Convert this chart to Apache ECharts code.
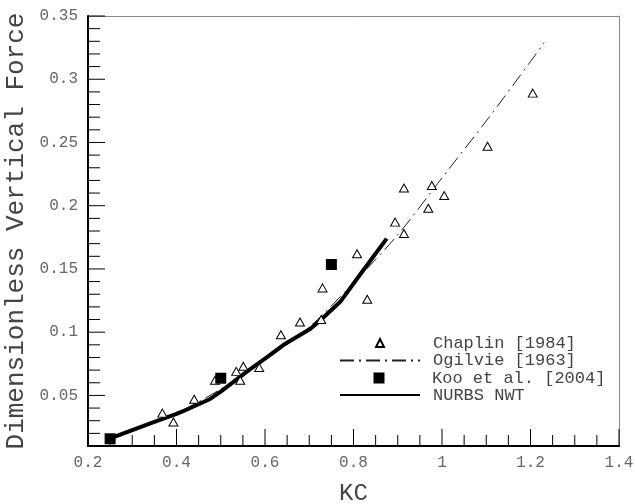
<!DOCTYPE html>
<html>
<head>
<meta charset="utf-8">
<script src="https://cdn.jsdelivr.net/npm/echarts@6/dist/echarts.min.js"></script>
<style>
  html, body { margin: 0; padding: 0; background: #fff; }
  #chart { width: 635px; height: 504px; }
</style>
</head>
<body>
<div id="chart"></div>
<script>
// Dimensionless vertical force versus Keulegan-Carpenter number (KC)

// Chaplin [1984] measurements
const chaplinKC = [0.368, 0.393, 0.44, 0.487, 0.535, 0.551, 0.544, 0.587, 0.636, 0.679,
                   0.727, 0.73, 0.808, 0.831, 0.894, 0.914, 0.914, 0.969, 0.977, 1.005,
                   1.103, 1.205];
const chaplinF = [0.036, 0.029, 0.047, 0.062, 0.069, 0.073, 0.062, 0.072, 0.098, 0.108,
                  0.110, 0.135, 0.162, 0.126, 0.187, 0.178, 0.214, 0.198, 0.216, 0.208,
                  0.247, 0.289];

// Ogilvie [1963] theory curve
const ogilvieKC = [0.25, 0.4, 0.5, 0.6, 0.7, 0.8, 0.9, 1.0, 1.1, 1.2, 1.231];
const ogilvieF = [0.015, 0.036, 0.055, 0.078, 0.104, 0.139, 0.177, 0.222, 0.267, 0.314, 0.329];

// Koo et al. [2004]
const kooKC = [0.25, 0.5, 0.75];
const kooF = [0.0157, 0.0636, 0.1535];

// NURBS NWT results
const nurbsKC = [0.25, 0.3, 0.35, 0.4, 0.415, 0.476, 0.5, 0.562, 0.604, 0.645, 0.702, 0.724, 0.77, 0.82, 0.875];
const nurbsF = [0.016, 0.0225, 0.029, 0.0354, 0.0375, 0.0472, 0.053, 0.0696, 0.080, 0.0907, 0.1025, 0.109, 0.124, 0.148, 0.174];

// Axis ticks (major ticks are labelled)
const xTicks = [0.2, 0.4, 0.6, 0.8, 1.0, 1.2, 1.4];
const xMinorTicks = [0.25, 0.3, 0.35, 0.45, 0.5, 0.55, 0.65, 0.7, 0.75, 0.85, 0.9, 0.95,
                     1.05, 1.1, 1.15, 1.25, 1.3, 1.35];
const yTicks = [0.05, 0.1, 0.15, 0.2, 0.25, 0.3, 0.35];
const yMinorTicks = [0.01, 0.02, 0.03, 0.04, 0.06, 0.07, 0.08, 0.09, 0.11, 0.12, 0.13, 0.14,
                     0.16, 0.17, 0.18, 0.19, 0.21, 0.22, 0.23, 0.24, 0.26, 0.27, 0.28, 0.29,
                     0.31, 0.32, 0.33, 0.34];

const pairs = (xs, ys) => xs.map((x, i) => [x, ys[i]]);

const FONT = '"Liberation Mono", "DejaVu Sans Mono", monospace';
const GRID = { left: 88, top: 16, width: 531, height: 430 };
const X_MIN = 0.2, X_MAX = 1.4, Y_MIN = 0.01, Y_MAX = 0.35;
const chart = echarts.init(document.getElementById('chart'), null, { renderer: 'canvas' });

const TEXT_X = 432;
function legendRow(name, top, left, w, h) {
  return {
    orient: 'vertical',
    left: left,
    top: top,
    padding: 0,
    itemWidth: w,
    itemHeight: h,
    textStyle: {
      fontFamily: FONT, fontSize: 17, color: '#444', lineHeight: 17,
      padding: [0, 0, 0, TEXT_X - (left + w + 5)]
    },
    selectedMode: false,
    data: [name]
  };
}
const hiddenSymbol = { color: 'rgba(0,0,0,0)', borderWidth: 0, borderColor: 'rgba(0,0,0,0)' };
const frameLine = { show: true, lineStyle: { color: '#888', width: 1 } };

// Inward tick marks: thin rectangles anchored on the frame edges
function tickSeries(data, horizontal, len) {
  return {
    type: 'scatter', xAxisIndex: 0, yAxisIndex: 0,
    data: data,
    symbol: 'rect',
    symbolSize: horizontal ? [len, 1] : [1, len],
    symbolOffset: horizontal ? [len / 2, 0] : [0, -len / 2],
    itemStyle: { color: '#000', opacity: 1 },
    clip: false, silent: true, z: 6
  };
}

chart.setOption({
  animation: false,
  backgroundColor: '#ffffff',
  grid: Object.assign({ show: false, containLabel: false, outerBoundsMode: 'none' }, GRID),
  legend: [
    legendRow('Chaplin [1984]', 334.5, 375, 8, 8),
    legendRow({ name: 'Ogilvie [1963]', itemStyle: hiddenSymbol }, 352, 339, 80, 17),
    legendRow('Koo et al. [2004]', 369.5, 373.5, 11, 11),
    legendRow({ name: 'NURBS NWT', itemStyle: hiddenSymbol }, 386.5, 339, 80, 17)
  ],
  xAxis: [
    {
      type: 'value', min: X_MIN, max: X_MAX, interval: 0.2, position: 'bottom', z: 10,
      name: 'KC', nameLocation: 'middle', nameGap: 36,
      nameTextStyle: { fontFamily: FONT, fontSize: 24, color: '#444' },
      axisLine: { show: true, lineStyle: { color: '#000', width: 2 } },
      axisTick: { show: false },
      splitLine: { show: false },
      axisLabel: {
        fontFamily: FONT, fontSize: 16, color: '#666', margin: 9,
        formatter: v => String(+v.toFixed(2))
      }
    },
    // top frame edge
    {
      type: 'value', min: X_MIN, max: X_MAX, position: 'top', offset: 0,
      axisLine: frameLine, axisTick: { show: false }, axisLabel: { show: false }, splitLine: { show: false }
    }
  ],
  yAxis: [
    {
      type: 'value', min: Y_MIN, max: Y_MAX, position: 'left', z: 10,
      name: 'Dimensionless Vertical Force', nameLocation: 'middle', nameGap: 51,
      nameTextStyle: { fontFamily: FONT, fontSize: 26, color: '#444' },
      axisLine: { show: true, lineStyle: { color: '#000', width: 2 } },
      axisTick: { show: false },
      splitLine: { show: false },
      axisLabel: {
        fontFamily: FONT, fontSize: 16, color: '#666', margin: 10,
        customValues: yTicks,
        formatter: v => String(+v.toFixed(2))
      }
    },
    // right frame edge
    {
      type: 'value', min: Y_MIN, max: Y_MAX, position: 'right', offset: 0,
      axisLine: frameLine, axisTick: { show: false }, axisLabel: { show: false }, splitLine: { show: false }
    }
  ],
  series: [
    tickSeries(xTicks.map(v => [v, Y_MIN]), false, 17),
    tickSeries(xMinorTicks.map(v => [v, Y_MIN]), false, 11),
    tickSeries(yTicks.map(v => [X_MIN, v]), true, 17),
    tickSeries(yMinorTicks.map(v => [X_MIN, v]), true, 12),
    {
      name: 'Ogilvie [1963]', type: 'line', xAxisIndex: 0, yAxisIndex: 0,
      data: pairs(ogilvieKC, ogilvieF),
      symbol: 'none', smooth: 0.3,
      lineStyle: { color: '#222', width: 1, type: [14, 5, 2, 5] },
      itemStyle: { color: '#222' },
      z: 2
    },
    {
      name: 'NURBS NWT', type: 'line', xAxisIndex: 0, yAxisIndex: 0,
      data: pairs(nurbsKC, nurbsF),
      symbol: 'none',
      lineStyle: { color: '#000', width: 4 },
      itemStyle: { color: '#000' },
      z: 3
    },
    {
      name: 'Chaplin [1984]', type: 'scatter', xAxisIndex: 0, yAxisIndex: 0,
      data: pairs(chaplinKC, chaplinF),
      symbol: 'triangle', symbolSize: [9, 8],
      itemStyle: { color: '#fff', borderColor: '#000', borderWidth: 1, opacity: 1 },
      z: 4
    },
    {
      name: 'Koo et al. [2004]', type: 'scatter', xAxisIndex: 0, yAxisIndex: 0,
      data: pairs(kooKC, kooF),
      symbol: 'rect', symbolSize: 11,
      itemStyle: { color: '#000', opacity: 1 },
      z: 5
    }
  ]
});
</script>
</body>
</html>
